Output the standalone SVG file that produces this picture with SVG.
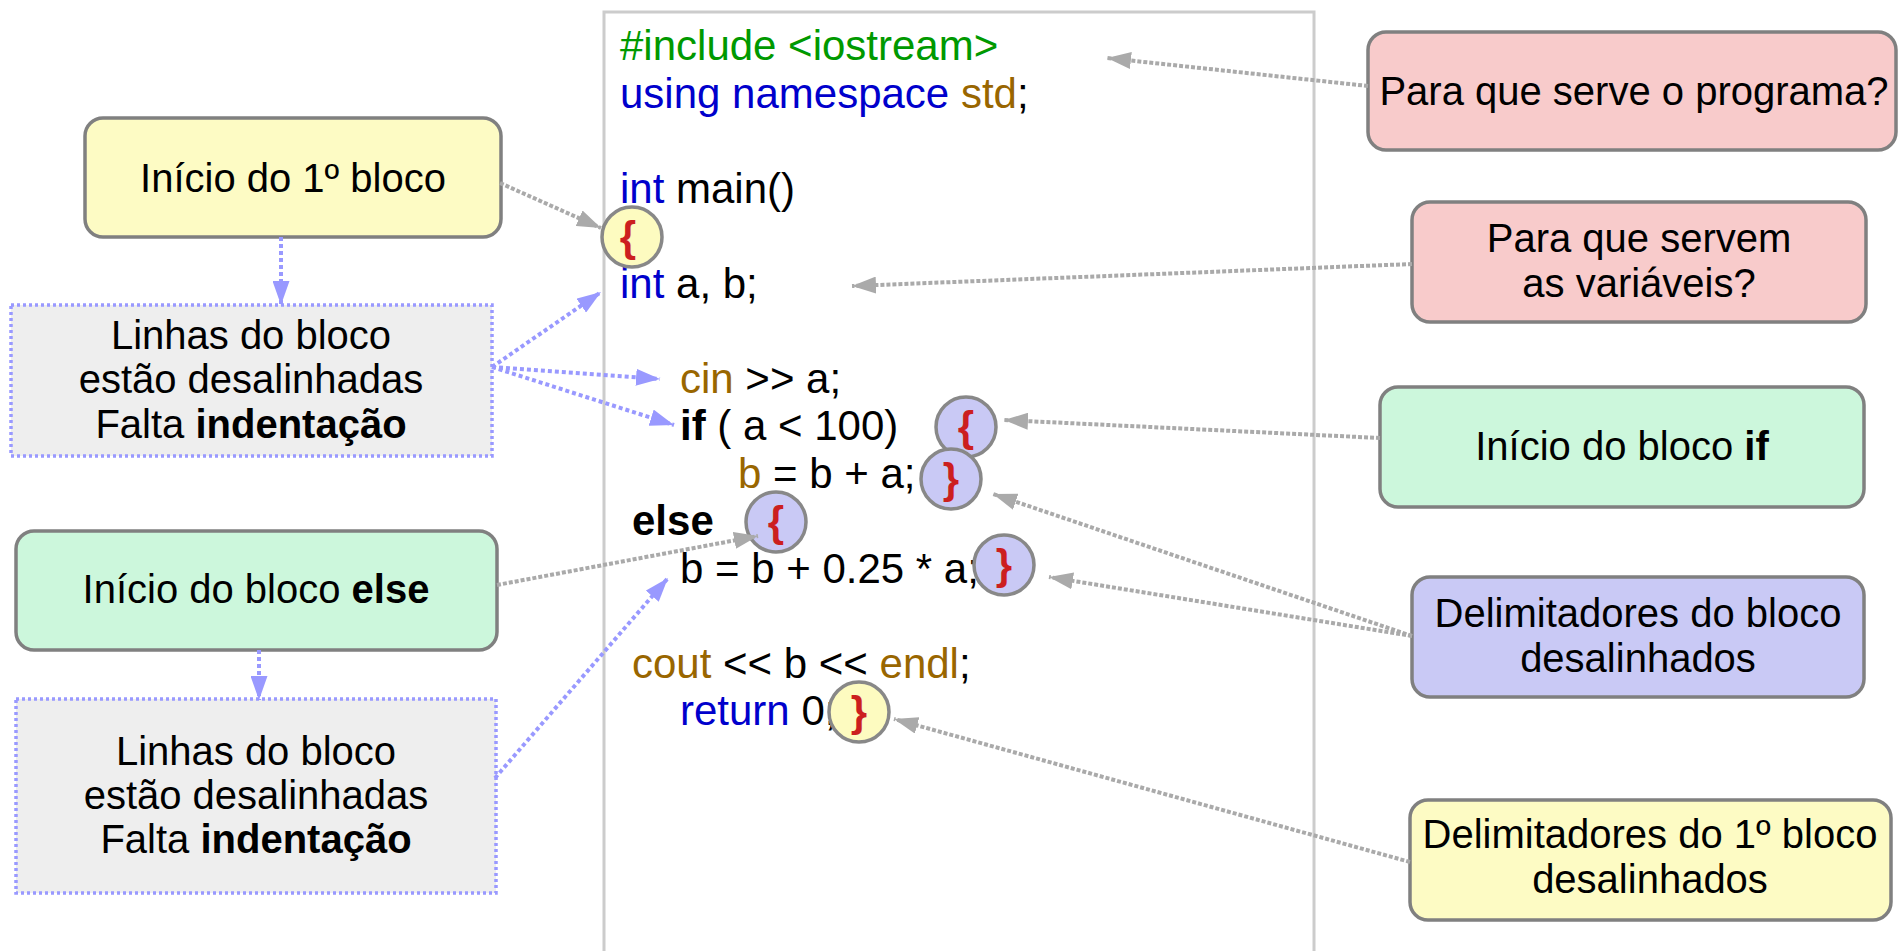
<svg xmlns="http://www.w3.org/2000/svg" width="1898" height="951" viewBox="0 0 1898 951">
  <style>
    .box { stroke: #808080; stroke-width: 3.5; }
    .note { fill: #eeeeee; stroke: #9999ff; stroke-width: 3.5; stroke-dasharray: 3 3; }
    .lbl { font-family: "Liberation Sans", Arial, sans-serif; font-size: 40px; fill: #000; text-anchor: middle; }
    .code { font-family: "Liberation Sans", Arial, sans-serif; font-size: 42px; fill: #000; }
    .pp { fill: #009900; }
    .kw { fill: #0000cc; }
    .id { fill: #996600; }
    .b { font-weight: bold; }
    .mark { stroke: #888888; stroke-width: 3.5; }
    .brace { font-family: "Liberation Sans", Arial, sans-serif; font-size: 42px; font-weight: bold; fill: #cc1f1f; text-anchor: middle; }
    .gray { fill: none; stroke: #aaaaaa; stroke-width: 4; stroke-dasharray: 4 2; marker-end: url(#ahGray); }
    .blue { fill: none; stroke: #9999ff; stroke-width: 4; stroke-dasharray: 4 3; marker-end: url(#ahBlue); }
  </style>
  <defs>
    <marker id="ahGray" markerUnits="userSpaceOnUse" markerWidth="24" markerHeight="17" refX="24" refY="8.5" orient="auto">
      <path d="M0,0 L24,8.5 L0,17 Z" fill="#aaaaaa"/>
    </marker>
    <marker id="ahBlue" markerUnits="userSpaceOnUse" markerWidth="24" markerHeight="17" refX="24" refY="8.5" orient="auto">
      <path d="M0,0 L24,8.5 L0,17 Z" fill="#9999ff"/>
    </marker>
  </defs>

  <rect width="1898" height="951" fill="#ffffff"/>

  <!-- source listing -->
  <g id="code">
    <rect x="604" y="12" width="710" height="960" fill="#ffffff" stroke="#cccccc" stroke-width="3"/>
    <text class="code" x="620" y="60"><tspan class="pp">#include &lt;iostream&gt;</tspan></text>
    <text class="code" x="620" y="107.5"><tspan class="kw">using namespace</tspan> <tspan class="id">std</tspan>;</text>
    <text class="code" x="620" y="202.5"><tspan class="kw">int</tspan> main()</text>
    <text class="code" x="620" y="297.5"><tspan class="kw">int</tspan> a, b;</text>
    <text class="code" x="680" y="392.5"><tspan class="id">cin</tspan> &gt;&gt; a;</text>
    <text class="code" x="680" y="440"><tspan class="b">if</tspan> ( a &lt; 100)</text>
    <text class="code" x="738" y="487.5"><tspan class="id">b</tspan> = b + a;</text>
    <text class="code b" x="632" y="535">else</text>
    <text class="code" x="680" y="582.5">b = b + 0.25 * a;</text>
    <text class="code" x="632" y="677.5"><tspan class="id">cout</tspan> &lt;&lt; b &lt;&lt; <tspan class="id">endl</tspan>;</text>
    <text class="code" x="680" y="725"><tspan class="kw">return</tspan> 0;</text>
  </g>

  <!-- brace markers -->
  <g id="brace-main-open">
    <circle class="mark" cx="632" cy="237" r="30" fill="#fdfbc0"/>
    <text class="brace" x="628" y="251">{</text>
  </g>
  <g id="brace-if-open">
    <circle class="mark" cx="966" cy="427" r="30" fill="#c9c9f5"/>
    <text class="brace" x="966" y="441">{</text>
  </g>
  <g id="brace-if-close">
    <circle class="mark" cx="951" cy="479" r="30" fill="#c9c9f5"/>
    <text class="brace" x="951" y="493">}</text>
  </g>
  <g id="brace-else-open">
    <circle class="mark" cx="776" cy="522" r="30" fill="#c9c9f5"/>
    <text class="brace" x="776" y="536">{</text>
  </g>
  <g id="brace-else-close">
    <circle class="mark" cx="1004" cy="565" r="30" fill="#c9c9f5"/>
    <text class="brace" x="1004" y="579">}</text>
  </g>
  <g id="brace-main-close">
    <circle class="mark" cx="859" cy="712" r="30" fill="#fdfbc0"/>
    <text class="brace" x="859" y="726">}</text>
  </g>

  <!-- left annotations -->
  <g id="inicio-1-bloco">
    <rect class="box" x="85" y="118" width="416" height="119" rx="18" fill="#fdfbc4"/>
    <text class="lbl" x="293" y="192">Início do 1º bloco</text>
  </g>
  <g id="linhas-bloco-1">
    <rect class="note" x="11" y="305" width="481" height="151"/>
    <text class="lbl" x="251" y="349">Linhas do bloco</text>
    <text class="lbl" x="251" y="393">estão desalinhadas</text>
    <text class="lbl" x="251" y="438">Falta <tspan class="b">indentação</tspan></text>
  </g>
  <g id="inicio-else">
    <rect class="box" x="16" y="531" width="481" height="119" rx="18" fill="#ccf7dc"/>
    <text class="lbl" x="256" y="603">Início do bloco <tspan class="b">else</tspan></text>
  </g>
  <g id="linhas-bloco-2">
    <rect class="note" x="16" y="699" width="480" height="194"/>
    <text class="lbl" x="256" y="765">Linhas do bloco</text>
    <text class="lbl" x="256" y="809">estão desalinhadas</text>
    <text class="lbl" x="256" y="853">Falta <tspan class="b">indentação</tspan></text>
  </g>

  <!-- right annotations -->
  <g id="para-que-programa">
    <rect class="box" x="1368" y="32" width="528" height="118" rx="18" fill="#f8cbcb"/>
    <text class="lbl" x="1634" y="105">Para que serve o programa?</text>
  </g>
  <g id="para-que-variaveis">
    <rect class="box" x="1412" y="202" width="454" height="120" rx="18" fill="#f8cbcb"/>
    <text class="lbl" x="1639" y="252">Para que servem</text>
    <text class="lbl" x="1639" y="297">as variáveis?</text>
  </g>
  <g id="inicio-if">
    <rect class="box" x="1380" y="387" width="484" height="120" rx="18" fill="#ccf7dc"/>
    <text class="lbl" x="1622" y="460">Início do bloco <tspan class="b">if</tspan></text>
  </g>
  <g id="delim-bloco">
    <rect class="box" x="1412" y="577" width="452" height="120" rx="18" fill="#c9c9f5"/>
    <text class="lbl" x="1638" y="627">Delimitadores do bloco</text>
    <text class="lbl" x="1638" y="672">desalinhados</text>
  </g>
  <g id="delim-1-bloco">
    <rect class="box" x="1410" y="800" width="481" height="120" rx="18" fill="#fdfbc4"/>
    <text class="lbl" x="1650" y="848">Delimitadores do 1º bloco</text>
    <text class="lbl" x="1650" y="893">desalinhados</text>
  </g>

  <!-- connectors -->
  <g id="connectors">
    <path class="gray" d="M1368,86 L1107,58"/>
    <path class="gray" d="M1412,264 L852,286"/>
    <path class="gray" d="M1380,438 L1004,420"/>
    <path class="gray" d="M1412,636 L993,494"/>
    <path class="gray" d="M1412,636 L1049,577"/>
    <path class="gray" d="M1410,862 L894,719"/>
    <path class="gray" d="M500,183 L601,228"/>
    <path class="gray" d="M497,585 L758,536"/>
    <path class="blue" d="M281,237 L281,305"/>
    <path class="blue" d="M259,650 L259,700"/>
    <path class="blue" d="M492,367 L601,292"/>
    <path class="blue" d="M492,367 L660,379"/>
    <path class="blue" d="M492,367 L674,425"/>
    <path class="blue" d="M495,778 L668,578"/>
  </g>
</svg>
